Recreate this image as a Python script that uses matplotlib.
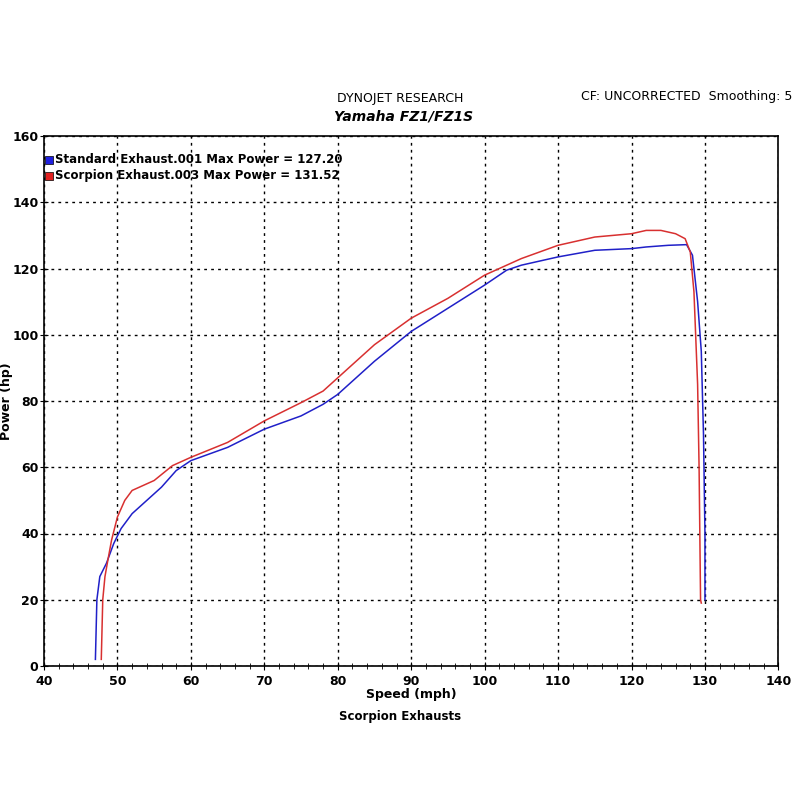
import matplotlib
matplotlib.use("Agg")
from matplotlib import pyplot as plt
from matplotlib.ticker import MultipleLocator

# Standard exhaust (blue)
std_speed = [47.0, 47.2, 47.6, 48.5, 49.5, 50.5, 52, 54, 56, 58, 60, 65, 70, 75, 78, 80,
             85, 90, 95, 100, 103, 105, 110, 115, 120, 122, 125, 127.5, 128.3, 129,
             129.5, 129.8, 130.0, 130.0]
std_power = [2, 20, 27, 31, 37, 41.5, 46, 50, 54, 59, 62, 66, 71.5, 75.5, 79, 82,
             92, 101, 108, 115, 119.5, 121, 123.5, 125.5, 126, 126.5, 127, 127.2, 124, 110,
             95, 70, 40, 20]

# Scorpion exhaust (red)
sc_speed = [47.8, 48.0, 48.3, 48.7, 49.2, 50, 51, 52, 55, 57.5, 60, 65, 70, 75, 78, 80,
            85, 90, 95, 100, 105, 110, 115, 120, 122, 124, 126, 127.3, 128, 128.5,
            129, 129.2, 129.4, 129.5]
sc_power = [2, 20, 27, 32, 38, 45, 50, 53, 56, 60.5, 63, 67.5, 74, 79.5, 83, 87,
            97, 105, 111, 118, 123, 127, 129.5, 130.5, 131.5, 131.5, 130.5, 129, 125, 113,
            85, 60, 20, 19]

fig = plt.figure(figsize=(8, 8), dpi=100)
ax = fig.add_axes([0.055, 0.1675, 0.918, 0.6625])

ax.plot(std_speed, std_power, color="#2020c8", lw=1.1)
ax.plot(sc_speed, sc_power, color="#d83030", lw=1.1)

ax.set_xlim(40, 140)
ax.set_ylim(0, 160)
ax.xaxis.set_major_locator(MultipleLocator(10))
ax.xaxis.set_minor_locator(MultipleLocator(2))
ax.yaxis.set_major_locator(MultipleLocator(20))
ax.grid(True, which="major", color="black", linestyle=(0, (2, 3)), lw=1)
ax.tick_params(which="both", direction="inout", labelsize=9, length=6)
ax.tick_params(which="minor", length=4)
ax.tick_params(axis="y", pad=1)
for lab in ax.get_xticklabels() + ax.get_yticklabels():
    lab.set_fontweight("bold")
for s in ax.spines.values():
    s.set_linewidth(1.2)

ax.set_xlabel("Speed (mph)", fontsize=9, fontweight="bold", labelpad=0)
ax.set_ylabel("Power (hp)", fontsize=9, fontweight="bold")
ax.yaxis.set_label_coords(-0.042, 0.5)

fig.text(0.5, 0.1, "Scorpion Exhausts", ha="center", fontsize=8.5, fontweight="bold")
fig.text(0.5, 0.873, "DYNOJET RESEARCH", ha="center", fontsize=9)
fig.text(0.505, 0.85, "Yamaha FZ1/FZ1S", ha="center", fontsize=10, fontweight="bold",
         style="italic")
fig.text(0.99, 0.875, "CF: UNCORRECTED  Smoothing: 5", ha="right", fontsize=9)

ax.text(0.015, 0.955, "Standard Exhaust.001 Max Power = 127.20", transform=ax.transAxes,
        fontsize=8.5, fontweight="bold", va="center")
ax.text(0.015, 0.925, "Scorpion Exhaust.003 Max Power = 131.52", transform=ax.transAxes,
        fontsize=8.5, fontweight="bold", va="center")
ax.scatter([0.007], [0.955], marker="s", s=30, color="#2020e0", edgecolor="black",
           linewidth=0.5, transform=ax.transAxes, clip_on=False, zorder=5)
ax.scatter([0.007], [0.925], marker="s", s=30, color="#e02020", edgecolor="black",
           linewidth=0.5, transform=ax.transAxes, clip_on=False, zorder=5)

fig.savefig("out.png")
